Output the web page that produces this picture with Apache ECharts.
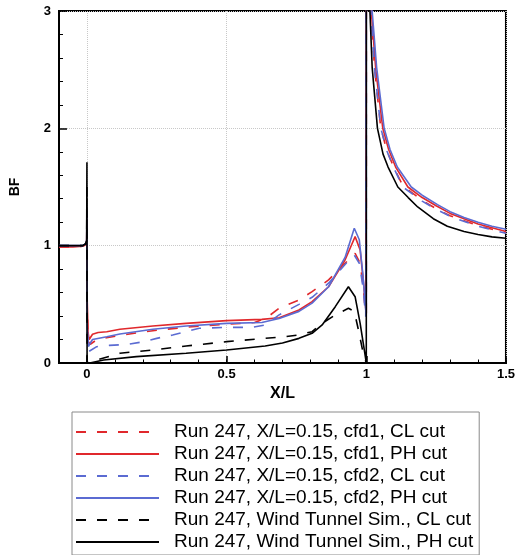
<!DOCTYPE html>
<html>
<head>
<meta charset="utf-8">
<script src="https://cdn.jsdelivr.net/npm/echarts@6/dist/echarts.min.js"></script>
<style>
html,body{margin:0;padding:0;background:#fff;}
#chart{width:518px;height:555px;}
</style>
</head>
<body>
<div id="chart"></div>
<script>
// ---- data (X/L, BF) ----
const seriesNames = [
  'Run 247, X/L=0.15, cfd1, CL cut',
  'Run 247, X/L=0.15, cfd1, PH cut',
  'Run 247, X/L=0.15, cfd2, CL cut',
  'Run 247, X/L=0.15, cfd2, PH cut',
  'Run 247, Wind Tunnel Sim., CL cut',
  'Run 247, Wind Tunnel Sim., PH cut'
];

const cfd1CL = [
  [-0.1,0.99],[-0.05,0.99],[-0.015,0.995],[-0.005,1.01],[-0.001,1.03],[0,1.2],
  [0.001,0.45],[0.005,0.18],[0.012,0.16],[0.03,0.19],[0.07,0.215],[0.13,0.24],
  [0.236,0.275],[0.355,0.305],[0.5,0.33],[0.6,0.345],[0.64,0.38],[0.688,0.466],
  [0.759,0.537],[0.806,0.608],[0.865,0.708],[0.924,0.85],[0.96,0.935],[0.978,0.85],
  [0.989,0.65],[0.995,0.48],[1.0,0.42],[1.0002,3.6],[1.016,3.0],[1.03,2.5],
  [1.052,2.0],[1.075,1.8],[1.1,1.66],[1.131,1.51],[1.2,1.385],[1.25,1.315],
  [1.3,1.255],[1.4,1.17],[1.5,1.11]
];

const cfd1PH = [
  [-0.1,0.99],[-0.05,0.99],[-0.015,0.995],[-0.005,1.01],[-0.001,1.03],[0,1.25],
  [0.001,0.54],[0.004,0.26],[0.008,0.2],[0.02,0.245],[0.04,0.26],[0.071,0.267],
  [0.118,0.287],[0.236,0.315],[0.355,0.338],[0.5,0.361],[0.626,0.372],[0.688,0.385],
  [0.759,0.452],[0.806,0.523],[0.865,0.65],[0.924,0.878],[0.96,1.077],[0.978,0.963],
  [0.989,0.708],[0.998,0.466],[1.0,0.45],[1.0002,3.6],[1.018,3.0],[1.034,2.5],
  [1.059,2.0],[1.08,1.82],[1.105,1.67],[1.149,1.5],[1.2,1.41],[1.25,1.34],
  [1.3,1.275],[1.4,1.185],[1.5,1.12]
];

const cfd2CL = [
  [-0.1,1.0],[-0.05,1.0],[-0.015,1.0],[-0.005,1.015],[-0.001,1.035],[0,1.15],
  [0.001,0.3],[0.005,0.095],[0.012,0.1],[0.035,0.139],[0.08,0.15],[0.15,0.16],
  [0.2,0.18],[0.25,0.21],[0.307,0.239],[0.402,0.296],[0.5,0.304],[0.59,0.304],
  [0.638,0.324],[0.688,0.41],[0.759,0.5],[0.806,0.56],[0.865,0.68],[0.924,0.84],
  [0.957,0.92],[0.975,0.85],[0.988,0.65],[0.998,0.395],[1.0,0.38],[1.0002,3.6],
  [1.016,3.0],[1.03,2.5],[1.052,2.0],[1.075,1.8],[1.1,1.655],[1.131,1.5],
  [1.2,1.38],[1.25,1.31],[1.3,1.25],[1.4,1.165],[1.5,1.105]
];

const cfd2PH = [
  [-0.1,1.0],[-0.05,1.0],[-0.015,1.0],[-0.005,1.015],[-0.001,1.035],[0,1.3],
  [0.001,0.3],[0.005,0.14],[0.012,0.17],[0.02,0.2],[0.071,0.224],[0.118,0.247],
  [0.236,0.287],[0.355,0.315],[0.5,0.338],[0.626,0.345],[0.688,0.38],[0.759,0.44],
  [0.806,0.51],[0.865,0.65],[0.924,0.9],[0.957,1.148],[0.975,1.05],[0.988,0.75],
  [0.998,0.45],[1.0,0.42],[1.0002,3.6],[1.021,3.0],[1.037,2.52],[1.064,2.0],
  [1.085,1.82],[1.111,1.67],[1.161,1.5],[1.2,1.43],[1.255,1.35],[1.3,1.29],
  [1.35,1.24],[1.4,1.2],[1.45,1.165],[1.5,1.14]
];

const wtCL = [
  [-0.1,1.0],[-0.05,1.0],[-0.015,1.0],[-0.005,1.015],[-0.001,1.04],[0,1.5],
  [0.0005,0],[0.02,0.01],[0.035,0.026],[0.118,0.083],[0.236,0.111],[0.355,0.145],
  [0.5,0.182],[0.638,0.21],[0.709,0.224],[0.759,0.24],[0.806,0.267],[0.842,0.338],
  [0.889,0.41],[0.936,0.466],[0.957,0.44],[0.972,0.281],[0.989,0.083],[1.0,0]
];

const wtPH = [
  [-0.1,1.0],[-0.05,1.0],[-0.015,1.0],[-0.005,1.015],[-0.001,1.04],[0,1.71],
  [0.0005,0],[0.01,0],[0.06,0.026],[0.177,0.054],[0.355,0.083],[0.5,0.111],
  [0.638,0.145],[0.7,0.17],[0.759,0.21],[0.806,0.253],[0.842,0.324],[0.889,0.48],
  [0.936,0.65],[0.96,0.565],[0.978,0.338],[0.993,0.11],[1.0,0],[1.0002,3.6],
  [1.013,3.0],[1.021,2.52],[1.04,2.0],[1.06,1.78],[1.078,1.67],[1.113,1.5],
  [1.15,1.41],[1.184,1.33],[1.24,1.23],[1.29,1.165],[1.35,1.12],[1.4,1.095],
  [1.45,1.075],[1.5,1.063]
];

const xTickValues = [0, 0.5, 1, 1.5];
const yTickValues = [0, 1, 2, 3];

// ---- styling ----
const RED = '#e0282c';
const BLUE = '#5b6bd2';
const BLACK = '#000000';
const DASH = [10, 11];
const FONT = '"Liberation Sans", Arial, Helvetica, sans-serif';

const seriesData = [cfd1CL, cfd1PH, cfd2CL, cfd2PH, wtCL, wtPH];
const colors = [RED, RED, BLUE, BLUE, BLACK, BLACK];
const dashed = [true, false, true, false, true, false];

const chart = echarts.init(document.getElementById('chart'), null, {renderer: 'canvas'});

const series = seriesData.map((d, i) => ({
  name: seriesNames[i],
  type: 'line',
  xAxisIndex: 0,
  yAxisIndex: 0,
  data: d,
  symbol: 'none',
  showSymbol: false,
  smooth: false,
  clip: true,
  animation: false,
  color: colors[i],
  lineStyle: {color: colors[i], width: 1.6, type: dashed[i] ? DASH : 'solid'}
}));

const option = {
  animation: false,
  backgroundColor: '#ffffff',
  grid: {
    left: 58, right: 10, top: 11, bottom: 192,
    show: true, borderColor: '#000', borderWidth: 2, backgroundColor: 'transparent'
  },
  xAxis: [
    {
      type: 'value', min: -0.1, max: 1.5,
      name: 'X/L', nameLocation: 'middle', nameGap: 9,
      nameTextStyle: {fontFamily: FONT, fontSize: 16, fontWeight: 'bold', color: '#000'},
      axisLine: {show: true, onZero: false, lineStyle: {color: '#000', width: 2}},
      axisTick: {show: true, inside: true, length: 7, customValues: xTickValues,
                 lineStyle: {color: '#000', width: 1.5}},
      axisLabel: {show: true, customValues: xTickValues, margin: 5,
                  fontFamily: FONT, fontSize: 13, fontWeight: 'bold', color: '#000',
                  formatter: v => String(v)},
      splitLine: {show: true, lineStyle: {color: '#c8c8c8', type: 'dotted', width: 1}}
    },
    {
      type: 'value', min: -0.1, max: 1.5, interval: 0.1, position: 'bottom',
      axisLine: {show: false},
      axisTick: {show: true, inside: true, length: 3.5, lineStyle: {color: '#000', width: 1}},
      axisLabel: {show: false},
      splitLine: {show: false}
    }
  ],
  yAxis: [
    {
      type: 'value', min: 0, max: 3, interval: 1,
      name: 'BF', nameLocation: 'middle', nameGap: 37, nameRotate: 90,
      nameTextStyle: {fontFamily: FONT, fontSize: 14, fontWeight: 'bold', color: '#000'},
      axisLine: {show: true, onZero: false, lineStyle: {color: '#000', width: 2}},
      axisTick: {show: true, inside: true, length: 8, lineStyle: {color: '#000', width: 1.5}},
      minorTick: {show: true, splitNumber: 5, length: 4, lineStyle: {color: '#000', width: 1}},
      axisLabel: {show: true, margin: 8, fontFamily: FONT, fontSize: 13, fontWeight: 'bold', color: '#000',
                  formatter: v => yTickValues.indexOf(v) >= 0 ? String(v) : ''},
      splitLine: {show: true, lineStyle: {color: '#c8c8c8', type: 'dotted', width: 1}}
    }
  ],
  legend: {
    show: true,
    orient: 'vertical',
    left: 72, top: 412,
    padding: [9, 6, 2, 3],
    borderColor: '#8a8a8a', borderWidth: 1,
    backgroundColor: 'transparent',
    itemWidth: 83, itemHeight: 14, itemGap: 0,
    data: seriesNames,
    textStyle: {fontFamily: FONT, fontSize: 19, lineHeight: 22, color: '#000', padding: [0, 0, 0, 10]},
    itemStyle: {opacity: 0},
    selectedMode: false
  },
  series: series
};

chart.setOption(option);
</script>
</body>
</html>
